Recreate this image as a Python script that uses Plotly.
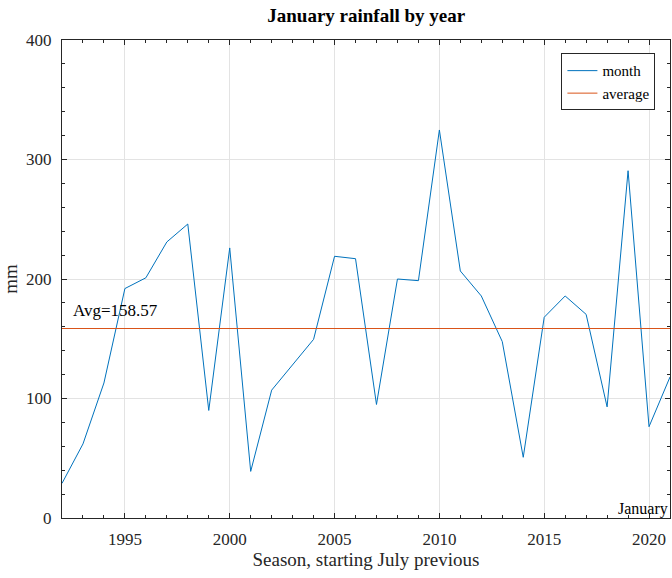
import plotly.graph_objects as go

years = list(range(1992, 2022))
rain_mm = [29, 62, 113, 192, 201, 231, 246, 90, 226, 39,
           107, 128, 149.5, 219, 217, 95, 200, 198.6, 324.7, 206.7,
           185.8, 147.6, 50.8, 168, 185.8, 170.4, 93, 290.6, 76.4, 118]
avg_value = 158.57
avg_label = "Avg=158.57"
month_name = "January"

FONT = "Liberation Serif, Times New Roman, serif"
AX = "#262626"
GRID = "#e3e3e3"

fig = go.Figure()
fig.add_trace(go.Scatter(x=years, y=rain_mm, mode="lines", name="month",
                         line=dict(color="#0072BD", width=1)))
fig.add_trace(go.Scatter(x=[years[0], years[-1]], y=[avg_value, avg_value], mode="lines",
                         name="average", line=dict(color="#D95319", width=1)))

axis_common = dict(
    showline=True, linecolor=AX, linewidth=1, mirror="allticks",
    ticks="inside", ticklen=5, tickcolor=AX, tickwidth=1,
    showgrid=True, gridcolor=GRID, gridwidth=1, zeroline=False,
    tickfont=dict(family=FONT, size=17, color=AX),
    automargin=False,
)

fig.update_layout(
    width=672, height=578,
    margin=dict(l=62, r=2, t=40, b=60, autoexpand=False),
    paper_bgcolor="white", plot_bgcolor="white",
    font=dict(family=FONT, color=AX),
    title=dict(text="<b>January rainfall by year</b>", x=0.545, xanchor="center",
               y=0.974, yanchor="middle", font=dict(family=FONT, size=19, color="black")),
    xaxis=dict(range=[1992, 2021], tickmode="linear", tick0=1995, dtick=5,
               minor=dict(ticks="inside", ticklen=3, dtick=1, tickcolor=AX, showgrid=False),
               ticklabelstandoff=6,
               title=dict(text="Season, starting July previous", font=dict(family=FONT, size=19, color=AX), standoff=3),
               **axis_common),
    yaxis=dict(range=[0, 400], tickmode="linear", tick0=0, dtick=100,
               minor=dict(ticks="inside", ticklen=3, dtick=20, tickcolor=AX, showgrid=False),
               ticklabelstandoff=6,
               title=dict(text="mm", font=dict(family=FONT, size=19, color=AX), standoff=6),
               **axis_common),
    legend=dict(x=0.976, xanchor="right", y=0.972, yanchor="top",
                bordercolor=AX, borderwidth=1, bgcolor="white",
                font=dict(family=FONT, size=15, color="black"),
                tracegroupgap=0, itemwidth=30),
    showlegend=True,
    annotations=[
        dict(x=1992.45, y=avg_value, xref="x", yref="y", text=avg_label, showarrow=False,
             xanchor="left", yanchor="bottom", yshift=7,
             font=dict(family=FONT, size=17, color="black")),
        dict(x=1, y=0, xref="paper", yref="paper", text=month_name, showarrow=False,
             xanchor="right", yanchor="bottom", xshift=0, yshift=-2,
             font=dict(family=FONT, size=16, color="black")),
    ],
)

fig.write_html("out.html", config={"displayModeBar": False},
               post_script="document.body.style.margin='0';document.body.style.overflow='hidden';")
